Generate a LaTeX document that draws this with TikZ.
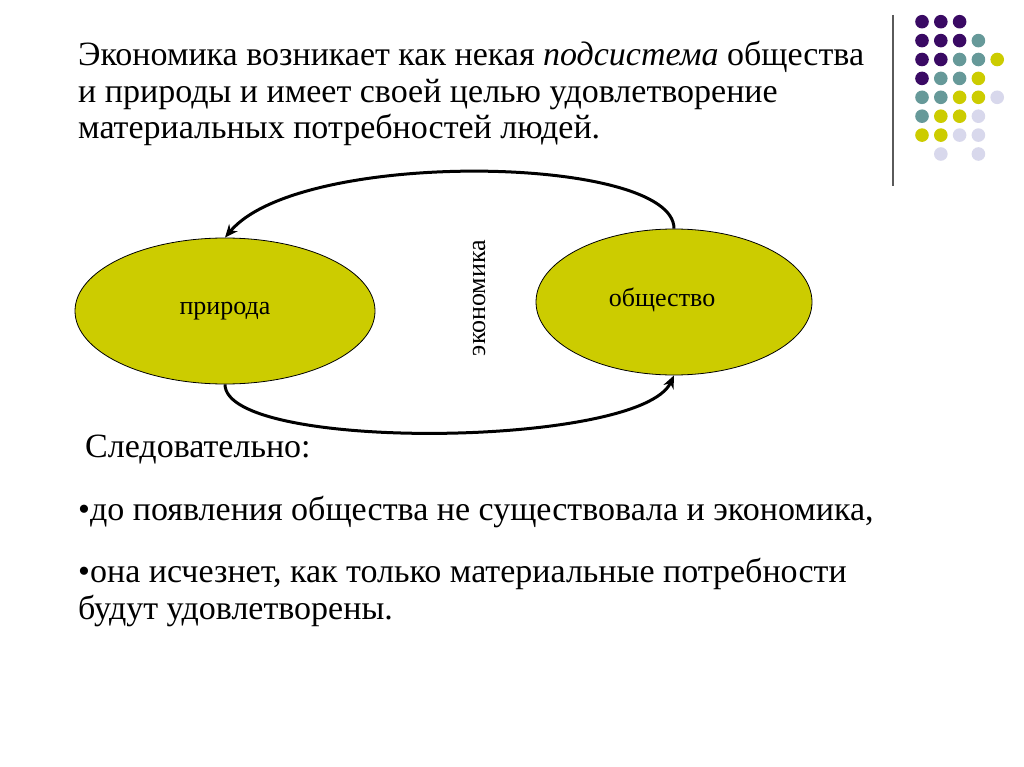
\documentclass[tikz,border=0pt]{standalone}
\usepackage{fontspec}
\setmainfont{Liberation Serif}
\usetikzlibrary{shapes.geometric,arrows.meta}
\definecolor{olive}{RGB}{204,204,0}
\definecolor{dpurple}{RGB}{58,10,100}
\definecolor{dteal}{RGB}{102,153,153}
\definecolor{lav}{RGB}{216,216,236}
\definecolor{rulegray}{RGB}{90,90,90}
\tikzset{
  big/.style={anchor=base west,inner sep=0pt,font=\fontsize{34}{40}\selectfont},
  blob/.style={ellipse,draw=black,line width=0.8pt,fill=olive,inner sep=0pt},
  lab/.style={font=\fontsize{26}{30}\selectfont,inner sep=0pt},
  flow/.style={line width=3pt,-{Stealth[length=13pt,width=11pt]}},
  dotp/.style={fill=dpurple},
  dott/.style={fill=dteal},
  doty/.style={fill=olive},
  dotl/.style={fill=lav},
  dotn/.style={fill=none}
}
\begin{document}
\begin{tikzpicture}[x=1pt,y=-1pt]
\useasboundingbox (0,0) rectangle (1024,767);
\fill[white] (0,0) rectangle (1024,767);
% decorative rule and dots
\draw[rulegray,line width=1.8pt] (893,15) -- (893,186);
\foreach \r/\row in {0/{p,p,p,n,n},1/{p,p,p,t,n},2/{p,p,t,t,y},3/{p,t,t,y,n},4/{t,t,y,y,l},5/{t,y,y,l,n},6/{y,y,l,l,n},7/{n,l,n,l,n}}{
  \foreach \c [count=\i from 0] in \row {
      \path[dot\c] (922+18.8*\i, 21.7+18.9*\r) circle (6.8);
  }
}
% title text
\node[big] (t1) at (78,66) {Экономика возникает как некая \textit{подсистема} общества};
\node[big] (t2) at (78,103) {и природы и имеет своей целью удовлетворение};
\node[big] (t3) at (78,139) {материальных потребностей людей.};
% diagram
\node[blob,minimum width=300,minimum height=146] (nat) at (225,311) {};
\node[lab] (natl) at (225,311) {природа};
\node[blob,minimum width=276,minimum height=146] (soc) at (674,302) {};
\node[lab] (socl) at (662,300) {общество};
\node[lab,rotate=90] (eco) at (479,298) {экономика};
\draw[flow] (soc.north) .. controls (674,155) and (300,148) .. (nat.north);
\draw[flow] (nat.south) .. controls (225,452) and (640,448) .. (soc.south);
% conclusions
\node[big] (c0) at (85,457) {Следовательно:};
\node[big] (c1) at (78,520) {•до появления общества не существовала и экономика,};
\node[big] (c2) at (78,582) {•она исчезнет, как только материальные потребности};
\node[big] (c3) at (78,619) {будут удовлетворены.};
\end{tikzpicture}
\end{document}
